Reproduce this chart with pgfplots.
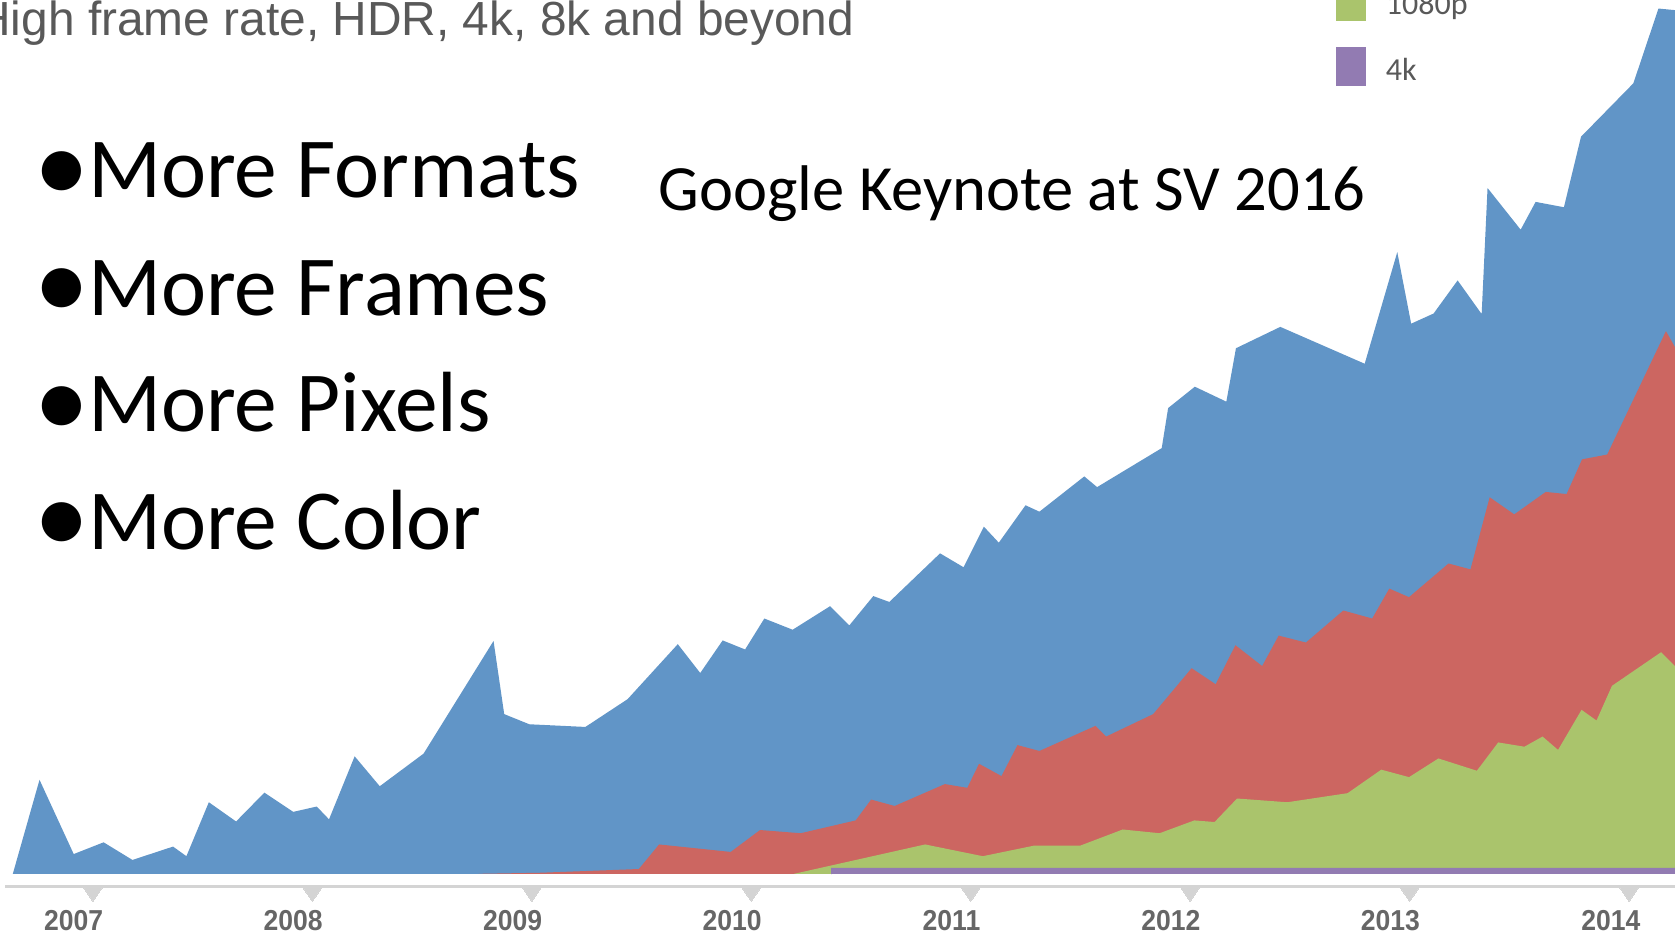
\documentclass[border=0pt]{standalone}
\usepackage{fontspec}
\setmainfont{Carlito}
\newfontfamily\arial{Liberation Sans}
\newfontfamily\dejavu{DejaVu Sans}
\usepackage{pgfplots}
\pgfplotsset{compat=1.18}
\definecolor{cBlue}{RGB}{97,149,199}
\definecolor{cRed}{RGB}{204,102,97}
\definecolor{cGreen}{RGB}{170,196,108}
\definecolor{cPurple}{RGB}{146,123,178}
\definecolor{txtgray}{RGB}{89,89,89}
\definecolor{tickgray}{RGB}{102,102,102}
\definecolor{linegray}{RGB}{212,212,212}
\tikzset{ticklab/.style={anchor=center, inner sep=0, text=tickgray, font=\arial\bfseries\fontsize{13.5}{15}\selectfont, xscale=0.92},
  bul/.style={anchor=center, inner sep=0, font=\dejavu\fontsize{24}{30}\selectfont},
  btxt/.style={anchor=base west, inner sep=0, font=\fontsize{40}{48}\selectfont}}
\begin{document}
\begin{tikzpicture}
\begin{axis}[at={(0,0)}, anchor=south west, scale only axis,
  width=784pt, height=437pt,
  xmin=0, xmax=1568, ymin=-56, ymax=818,
  hide axis, clip=true]
% All (blue)
\addplot[fill=cBlue, draw=none] coordinates {
(12,0) (37,88) (69,18.5) (97,29.5) (124,13) (162,25.5) (174.5,16.5) (195.5,67)
(221,49) (247.5,76) (274.5,58) (296.5,63) (308,51) (332,110) (355.5,82)
(396.5,112.5) (462,218) (472,149.5) (495.5,140) (548,137.5) (587.5,163.5)
(634.5,215) (655.5,188) (676.5,218.5) (697.5,210) (715.5,239) (742,228.5)
(777,250.5) (795,232.5) (817.5,260) (832.5,254.5) (880,300) (902,287)
(921,325) (935,310) (960,345) (973,339) (1015,372) (1027,362) (1087.5,398.5)
(1093.5,436) (1118.5,456) (1148,442) (1157,492) (1198.5,512) (1277.5,477.5)
(1308,582) (1321,515) (1342,524.5) (1364.5,555.5) (1387,524) (1392.5,642)
(1423.5,603) (1437.5,629) (1464,624) (1480,690) (1529,740) (1552.5,810)
(1568,808.5) (1568,0)} \closedcycle;
% 720p (red)
\addplot[fill=cRed, draw=none] coordinates {
(448,0) (505.5,1) (598,4.5) (617,27.5) (684,20.5) (711.5,41) (749.5,38)
(801,50) (815.5,69.5) (837.5,63.5) (884.5,84) (905.5,80.5) (916.5,103)
(937.5,91.5) (952.5,120.5) (973,115) (1025.5,138.5) (1035.5,128.5)
(1079.5,149.5) (1115.5,192.5) (1138,177.5) (1156.5,214) (1181.5,194.5)
(1197,223) (1222.5,216.5) (1257.5,246.5) (1284.5,239) (1300.5,267) (1319,259)
(1356,290.5) (1376.5,285) (1394.5,352.5) (1417.5,336.5) (1447,357.5)
(1466.5,355.5) (1481,388) (1504.5,392.5) (1559.5,508) (1568,493) (1568,0)} \closedcycle;
% 1080p (green)
\addplot[fill=cGreen, draw=none] coordinates {
(743.3,0) (866,27.5) (920,16.5) (968.5,26.5) (1011.5,26.5) (1051,41.5)
(1085.5,38) (1118,50) (1137,48.5) (1158,70.5) (1205,67) (1261.5,75.5)
(1293,97.5) (1319,90.5) (1346.5,108) (1382.5,96.5) (1402.5,123) (1427,119)
(1444,128.5) (1458.5,116) (1480.5,153.5) (1494.5,143.5) (1509,176)
(1555,207.5) (1568,194.5) (1568,0)} \closedcycle;
% 4k (purple)
\addplot[fill=cPurple, draw=none] coordinates {
(778,-1) (778,5.5) (1568,5.5) (1568,-1)} \closedcycle;
% axis line and tick triangles
\draw[linegray, line width=1.5pt] (axis cs:5,-12) -- (axis cs:1568,-12);
\addplot[only marks, color=linegray, mark=triangle*, mark size=5pt,
  mark options={rotate=180, fill=linegray, draw=linegray, line width=0pt, yscale=0.85}]
  coordinates {(87,-17.3) (292.4,-17.3) (497.9,-17.3) (703.3,-17.3)
  (908.7,-17.3) (1114.1,-17.3) (1319.6,-17.3) (1525,-17.3)};
% tick labels
\node[ticklab] at (axis cs:69,-43.5) {2007};
\node[ticklab] at (axis cs:274.4,-43.5) {2008};
\node[ticklab] at (axis cs:479.9,-43.5) {2009};
\node[ticklab] at (axis cs:685.3,-43.5) {2010};
\node[ticklab] at (axis cs:890.7,-43.5) {2011};
\node[ticklab] at (axis cs:1096.1,-43.5) {2012};
\node[ticklab] at (axis cs:1301.6,-43.5) {2013};
\node[ticklab] at (axis cs:1508,-43.5) {2014};
% title (cut off)
\node[anchor=base east, inner sep=0, text=txtgray, font=\arial\fontsize{22.4}{26}\selectfont]
  at (axis cs:800,785) {High frame rate, HDR, 4k, 8k and beyond};
% legend (partly cut off)
\fill[cGreen] (axis cs:1251,798.6) rectangle (axis cs:1279,834);
\fill[cPurple] (axis cs:1251,737.8) rectangle (axis cs:1279,773.7);
\node[anchor=base west, inner sep=0, text=txtgray, font=\fontsize{15}{18}\selectfont]
  at (axis cs:1297,804) {1080p};
\node[anchor=base west, inner sep=0, text=txtgray, font=\fontsize{15}{18}\selectfont]
  at (axis cs:1297,743) {4k};
% bullets
\node[bul] at (axis cs:58,658) {●};
\node[btxt] at (axis cs:82,633) {More Formats};
\node[bul] at (axis cs:58,548) {●};
\node[btxt] at (axis cs:82,523) {More Frames};
\node[bul] at (axis cs:58,438) {●};
\node[btxt] at (axis cs:82,414) {More Pixels};
\node[bul] at (axis cs:58,329) {●};
\node[btxt] at (axis cs:82,304) {More Color};
\node[anchor=base west, inner sep=0, font=\fontsize{30.2}{36}\selectfont]
  at (axis cs:616,621) {Google Keynote at SV 2016};
\end{axis}
\pgfresetboundingbox
\useasboundingbox (0,0) rectangle (784pt,437pt);
\end{tikzpicture}
\end{document}
